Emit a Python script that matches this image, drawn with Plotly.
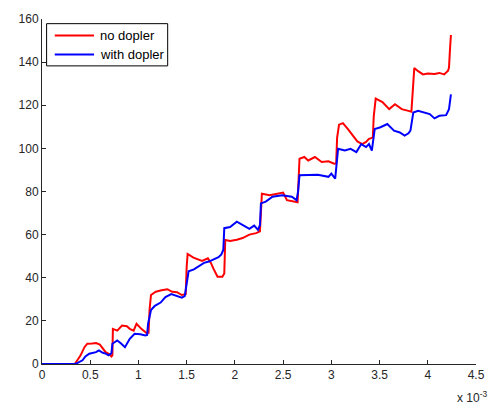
import plotly.graph_objects as go

# Time axis in units of 1e-3 s
t_red = [0, 0.34, 0.37, 0.40, 0.44, 0.47, 0.52, 0.56, 0.60, 0.62, 0.66, 0.70, 0.72, 0.73,
         0.735, 0.78, 0.83, 0.88, 0.91, 0.95, 0.98, 1.03, 1.08, 1.105,
         1.115, 1.13, 1.18, 1.24, 1.30, 1.35, 1.40, 1.45, 1.49,
         1.50, 1.51, 1.57, 1.62, 1.66, 1.72, 1.75, 1.78, 1.82, 1.87, 1.89,
         1.90, 1.95, 2.02, 2.08, 2.15, 2.22, 2.26,
         2.27, 2.28, 2.36, 2.46, 2.50, 2.54, 2.60, 2.65,
         2.66, 2.67, 2.72, 2.76, 2.83, 2.90, 2.97, 3.03, 3.05,
         3.06, 3.08, 3.12, 3.17, 3.22, 3.27, 3.32, 3.36, 3.39, 3.43,
         3.44, 3.46, 3.53, 3.56, 3.60, 3.66, 3.73, 3.80, 3.83,
         3.845, 3.86, 3.90, 3.95, 4.00, 4.07, 4.12, 4.17, 4.21, 4.22, 4.23, 4.24]
no_dopler = [0, 0, 2, 4, 7.8, 9.4, 9.5, 9.7, 9, 7.8, 5.5, 4.5, 3.5, 4,
             16.3, 15.5, 17.8, 17.5, 16.3, 15.5, 18.6, 16.3, 14.5, 14.5,
             25, 32, 33.5, 34.2, 34.7, 33.5, 33.3, 32, 32.4,
             45, 51, 49.3, 48.5, 47.8, 49, 47, 44, 40.5, 40.5, 42,
             57.5, 57, 57.6, 58.4, 60, 60.7, 61.5,
             70, 79, 78.3, 79, 79.5, 76, 75.5, 75,
             85, 95.2, 96, 94.4, 96, 93.7, 94, 92.9, 93,
             105, 111, 111.7, 109, 105.9, 103.2, 102, 103, 104.4, 105,
             115, 123.1, 121.5, 120, 118.2, 120.5, 118.2, 117.4, 117,
             127, 137.3, 135.8, 134.3, 134.7, 134.5, 135, 134.3, 136, 137.5, 145.7, 152.6]

t_blue = [0, 0.34, 0.37, 0.42, 0.45, 0.49, 0.56, 0.59, 0.63, 0.66, 0.69, 0.71,
          0.72, 0.73, 0.78, 0.82, 0.86, 0.91, 0.96, 1.02, 1.07, 1.09,
          1.10, 1.13, 1.17, 1.23, 1.28, 1.34, 1.40, 1.45, 1.48,
          1.50, 1.52, 1.575, 1.63, 1.68, 1.73, 1.78, 1.83, 1.86, 1.88,
          1.89, 1.95, 2.02, 2.08, 2.15, 2.20, 2.24, 2.26,
          2.27, 2.32, 2.39, 2.49, 2.59, 2.64,
          2.655, 2.67, 2.76, 2.86, 2.97, 3.00, 3.04,
          3.055, 3.07, 3.14, 3.20, 3.26, 3.31, 3.36, 3.39, 3.42,
          3.435, 3.45, 3.51, 3.58, 3.65, 3.71, 3.76, 3.80, 3.82,
          3.835, 3.85, 3.90, 3.97, 4.02, 4.07, 4.12, 4.19, 4.22, 4.24]
with_dopler = [0, 0, 0.5, 1.7, 3.5, 4.8, 5.5, 6.3, 5.2, 4.8, 4, 4.5,
               5, 9.4, 10.9, 9.5, 7.8, 11.7, 14, 13.8, 13.2, 13.5,
               18.7, 25, 27, 28.5, 31, 32.4, 31.5, 30.8, 31.5,
               38, 43, 43.9, 45.5, 46.9, 47.5, 48.5, 49.5, 50.8, 53,
               63, 63.5, 66, 64.5, 62.7, 64.2, 62.2, 64.5,
               74.5, 75.3, 77.6, 78.3, 77.6, 76,
               80, 87.5, 87.5, 87.8, 86.8, 88.3, 86,
               92, 99.8, 99, 99.8, 98.3, 102, 100.6, 102, 99,
               104, 109, 109.8, 111.3, 108.2, 107.4, 105.9, 107, 108.2,
               113, 116.6, 117.4, 116.6, 115.9, 113.9, 115.1, 115.4, 118.2, 125]

x_ticks = [0, 0.5, 1, 1.5, 2, 2.5, 3, 3.5, 4, 4.5]
x_tick_labels = ["0", "0.5", "1", "1.5", "2", "2.5", "3", "3.5", "4", "4.5"]
y_ticks = [0, 20, 40, 60, 80, 100, 120, 140, 160]

series_names = ["no dopler", "with dopler"]
series_colors = ["#ff0000", "#0000ff"]

FONT = "Liberation Sans, Arial, sans-serif"

fig = go.Figure()
fig.add_trace(go.Scatter(x=t_red, y=no_dopler, mode="lines", name=series_names[0],
                         line=dict(color=series_colors[0], width=2)))
fig.add_trace(go.Scatter(x=t_blue, y=with_dopler, mode="lines", name=series_names[1],
                         line=dict(color=series_colors[1], width=2)))

axis_common = dict(showgrid=False, zeroline=False, showline=True, linecolor="#262626",
                   linewidth=1, ticks="inside", ticklen=4, tickcolor="#262626",
                   tickfont=dict(family=FONT, size=12, color="#262626"), mirror=False)

# Boxed legend in the upper-left corner of the axes (paper coordinates)
shapes = [dict(type="rect", xref="paper", yref="paper", x0=0.0106, x1=0.2896,
               y0=0.8641, y1=0.9865, fillcolor="white",
               line=dict(color="black", width=1), layer="above")]
annotations = []
legend_rows_y = [0.952, 0.8974]
for name, color, ly in zip(series_names, series_colors, legend_rows_y):
    shapes.append(dict(type="line", xref="paper", yref="paper", x0=0.0294, x1=0.1199,
                       y0=ly, y1=ly, line=dict(color=color, width=2), layer="above"))
    annotations.append(dict(text=name, xref="paper", yref="paper", x=0.1312, y=ly,
                            xanchor="left", yanchor="middle", showarrow=False, borderpad=0,
                            font=dict(family=FONT, size=13, color="#000000")))

# Exponent multiplier for the x tick labels
annotations.append(dict(text="x 10<sup>-3</sup>", xref="paper", yref="paper",
                        x=1.027, y=-0.097, xanchor="right", yanchor="middle",
                        showarrow=False, borderpad=0,
                        font=dict(family=FONT, size=12, color="#262626")))

fig.update_layout(
    width=497, height=405,
    margin=dict(l=42, r=13, t=16, b=41),
    paper_bgcolor="white", plot_bgcolor="white",
    font=dict(family=FONT, size=12, color="#262626"),
    xaxis=dict(range=[0, 4.5], tickvals=x_ticks, ticktext=x_tick_labels, **axis_common),
    yaxis=dict(range=[0, 160], tickvals=y_ticks, **axis_common),
    showlegend=False,
    shapes=shapes,
    annotations=annotations,
)

fig.write_html("out.html")
